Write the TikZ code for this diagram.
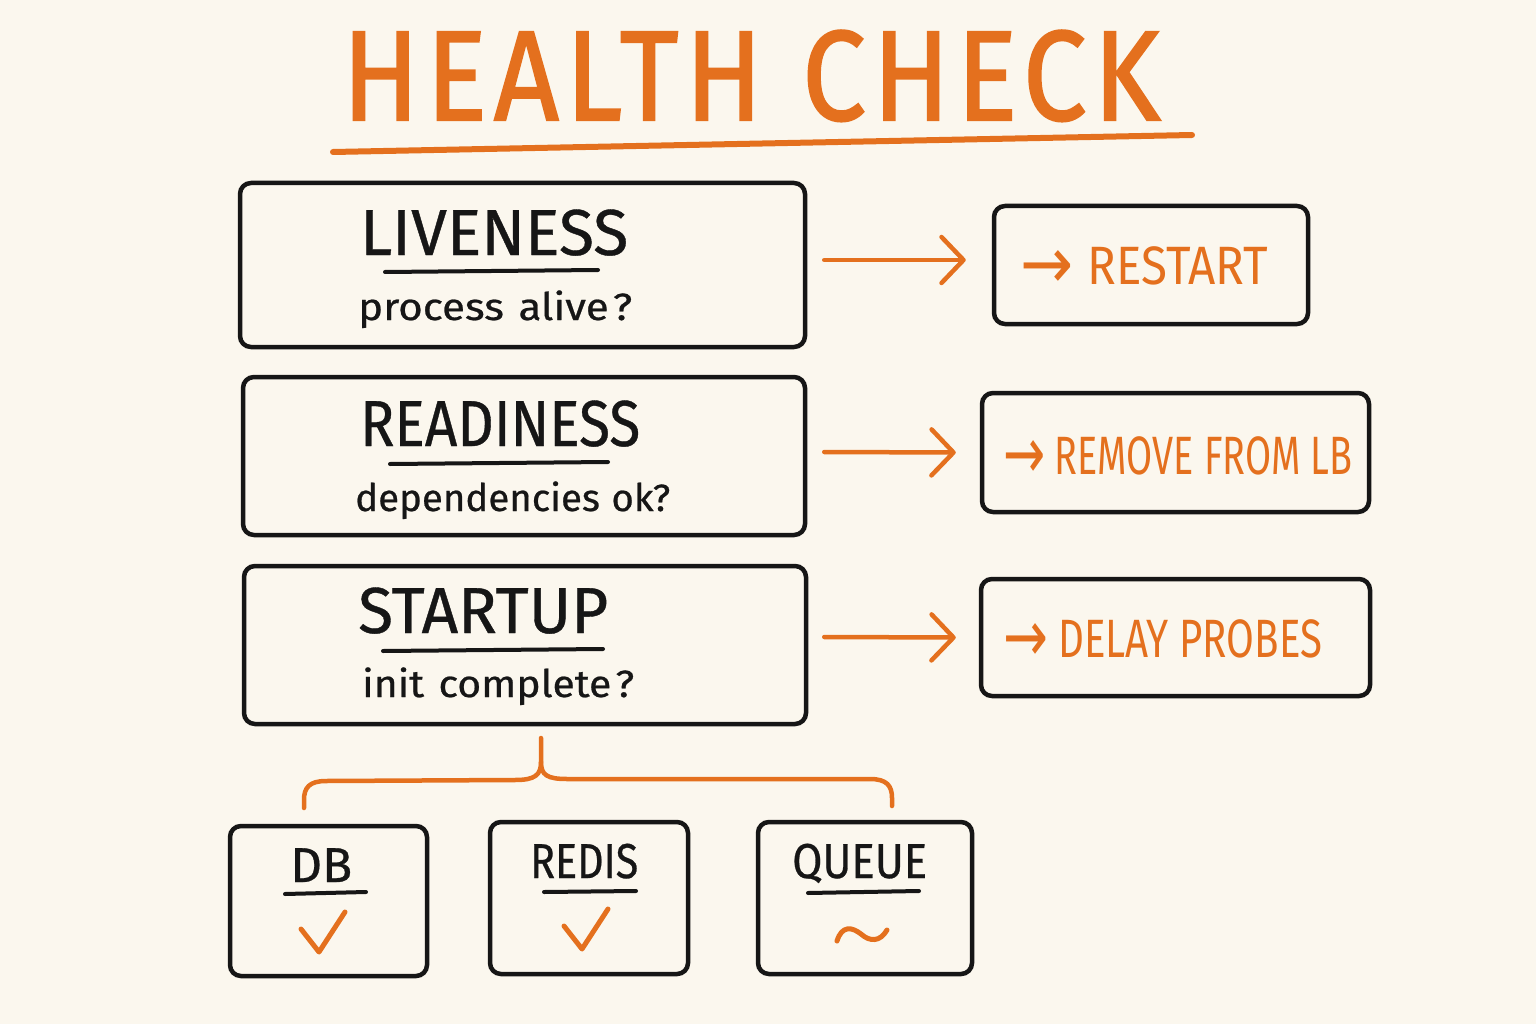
\documentclass[tikz,border=0pt]{standalone}
\usepackage{fontspec}
\setmainfont{Fira Sans}
\newfontfamily\arrowfont{DejaVu Sans}
\usetikzlibrary{arrows.meta}
\definecolor{bg}{HTML}{FBF7EE}
\definecolor{org}{HTML}{E4701E}
\definecolor{ink}{HTML}{161616}
\newcommand{\fitw}[2]{\resizebox{#1}{\height}{#2}}
\newcommand{\bigarr}{\raisebox{-4pt}{\arrowfont\fontsize{72}{72}\selectfont →}}
\tikzset{
  box/.style={draw=ink, line width=4.5pt, rounded corners=11pt, inner sep=0pt},
  txt/.style={anchor=base west, inner sep=0pt, text=ink},
  otxt/.style={anchor=base west, inner sep=0pt, text=org},
  uline/.style={draw=ink, line width=4pt, line cap=round},
  conn/.style={draw=org, line width=4.5pt, line cap=round,
    -{Straight Barb[length=22pt, width=46pt, line width=4.5pt, round]}},
  brace/.style={draw=org, line width=4.5pt, line cap=round, line join=round},
  tickmark/.style={draw=org, line width=5pt, line cap=round, line join=round}
}
\begin{document}
\begin{tikzpicture}[x=1pt,y=-1pt]
\fill[bg] (0,0) rectangle (1536,1024);
\useasboundingbox (0,0) rectangle (1536,1024);

% title
\node[otxt] (title) at (342,120) {\fitw{818pt}{\fontsize{128}{128}\selectfont\addfontfeatures{LetterSpace=6,FakeBold=1.6}HEALTH\hspace{0.35em}CHECK}};
\draw[draw=org, line width=6pt, line cap=round] (333,152) -- (1192,135);

% left boxes
\node[box, minimum width=565pt, minimum height=164pt] (live) at (522.5,265) {};
\node[box, minimum width=562pt, minimum height=158pt] (ready) at (524,456) {};
\node[box, minimum width=562pt, minimum height=158pt] (start) at (525,645) {};

\node[txt] (liveT) at (360,255) {\fitw{268pt}{\fontsize{65}{65}\selectfont\addfontfeatures{FakeBold=0.6} LIVENESS}};
\draw[uline] (385,272) -- (598,270);
\node[txt] (liveS) at (358,320) {\fitw{274pt}{\fontsize{38}{38}\selectfont\addfontfeatures{FakeBold=0.6} process\hspace{0.35em}alive\hspace{0.1em}?}};

\node[txt] (readyT) at (360,446) {\fitw{280pt}{\fontsize{65}{65}\selectfont\addfontfeatures{FakeBold=0.6} READINESS}};
\draw[uline] (390,464) -- (608,462);
\node[txt] (readyS) at (355,511) {\fitw{315pt}{\fontsize{38}{38}\selectfont\addfontfeatures{FakeBold=0.6} dependencies\hspace{0.3em}ok?}};

\node[txt] (startT) at (358,633) {\fitw{250pt}{\fontsize{65}{65}\selectfont\addfontfeatures{FakeBold=0.6} STARTUP}};
\draw[uline] (383,651) -- (603,649);
\node[txt] (startS) at (362,697) {\fitw{272pt}{\fontsize{38}{38}\selectfont\addfontfeatures{FakeBold=0.6} init\hspace{0.35em}complete\hspace{0.1em}?}};

% right boxes
\node[box, minimum width=314pt, minimum height=118pt] (restart) at (1151,265) {};
\node[box, minimum width=387pt, minimum height=119pt] (remove) at (1175.5,452.5) {};
\node[box, minimum width=389pt, minimum height=117pt] (delay) at (1175.5,637.5) {};

\node[otxt] (restartT) at (1020,285) {\fitw{248pt}{\fontsize{54}{54}\selectfont\bigarr\hspace{0.3em}RESTART}};
\node[otxt] (removeT) at (1003,474) {\fitw{349pt}{\fontsize{54}{54}\selectfont\bigarr\hspace{0.25em}REMOVE FROM LB}};
\node[otxt] (delayT) at (1003,657) {\fitw{319pt}{\fontsize{54}{54}\selectfont\bigarr\hspace{0.25em}DELAY PROBES}};

% connectors
\draw[conn] ([xshift=17pt,yshift=5pt]live.east) -- ([xshift=-26pt,yshift=5pt]restart.west);
\draw[conn] ([xshift=17pt,yshift=4pt]ready.east) -- ([xshift=-24pt]remove.west);
\draw[conn] ([xshift=16pt,yshift=8pt]start.east) -- ([xshift=-23pt]delay.west);

% bottom boxes
\node[box, minimum width=197pt, minimum height=150pt] (db) at (328.5,901) {};
\node[box, minimum width=198pt, minimum height=152pt] (redis) at (589,898) {};
\node[box, minimum width=214pt, minimum height=152pt] (queue) at (865,898) {};

\node[txt] (dbT) at (290,882) {\fitw{62pt}{\fontsize{49}{49}\selectfont\addfontfeatures{FakeBold=0.6} DB}};
\draw[uline] (285,894) -- (366,892);
\node[txt] (redisT) at (530,878) {\fitw{108pt}{\fontsize{49}{49}\selectfont\addfontfeatures{FakeBold=0.6} REDIS}};
\draw[uline] (544,892) -- (636,891);
\node[txt] (queueT) at (792,878) {\fitw{135pt}{\fontsize{49}{49}\selectfont\addfontfeatures{FakeBold=0.6} QUEUE}};
\draw[uline] (808,893) -- (919,891);

% brace
\coordinate (bstem) at (541,738);
\coordinate (bmid) at (541,762);
\coordinate (bl) at (304,808);
\coordinate (br) at (892,806);
\draw[brace] (bstem) -- (bmid) .. controls (541,775) and (535,780) .. (515,780) -- (326,781) .. controls (309,781) and (304,788) .. (304,800) -- (bl);
\draw[brace] (bmid) .. controls (541,775) and (547,779) .. (567,779) -- (870,779) .. controls (887,779) and (892,786) .. (892,798) -- (br);

% marks
\draw[tickmark] (301,929) -- (319,952) -- (345,912);
\draw[tickmark] (564,926) -- (582,949) -- (608,909);
\draw[tickmark] (837,941) .. controls (842,925) and (852,927) .. (861,934) .. controls (870,942) and (880,942) .. (887,930);
\end{tikzpicture}
\end{document}
